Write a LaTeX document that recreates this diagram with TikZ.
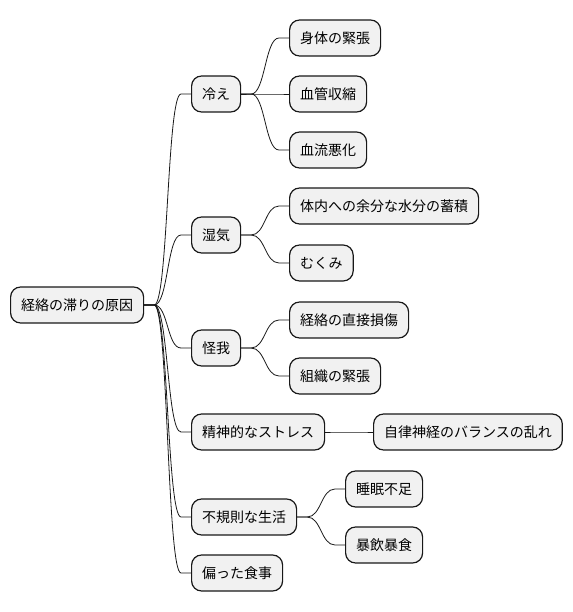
\documentclass[tikz,border=0pt]{standalone}
\usepackage{fontspec}
\newfontfamily\jp{Noto Sans CJK JP}
\definecolor{boxfill}{HTML}{F1F1F1}
\definecolor{ink}{HTML}{181818}
\tikzset{
  mmbox/.style={draw=ink, fill=boxfill, line width=1.2pt, rounded corners=10pt,
    inner xsep=10.5pt, inner ysep=0pt, minimum height=36pt, anchor=west,
    font=\jp\fontsize{14}{16}\selectfont, text=black},
  mmlink/.style={draw=ink, line width=0.8pt,
    to path={-- ++(10pt,0) .. controls +(14pt,0) and +(-14pt,0) .. ([xshift=-10pt]\tikztotarget) -- (\tikztotarget)}}
}
\begin{document}
\begin{tikzpicture}[x=1pt,y=-1pt]
\useasboundingbox (0,0) rectangle (572,612);
\node[mmbox] (root) at (10,305) {経絡の滞りの原因};
\node[mmbox] (hie) at (191,94) {冷え};
\node[mmbox] (hie1) at (289,38) {身体の緊張};
\node[mmbox] (hie2) at (289,94) {血管収縮};
\node[mmbox] (hie3) at (289,150) {血流悪化};
\node[mmbox] (shi) at (191,235) {湿気};
\node[mmbox] (shi1) at (289,206) {体内への余分な水分の蓄積};
\node[mmbox] (shi2) at (289,263) {むくみ};
\node[mmbox] (ke) at (191,348) {怪我};
\node[mmbox] (ke1) at (289,320) {経絡の直接損傷};
\node[mmbox] (ke2) at (289,376) {組織の緊張};
\node[mmbox] (sei) at (191,432) {精神的なストレス};
\node[mmbox] (sei1) at (373,432) {自律神経のバランスの乱れ};
\node[mmbox] (fu) at (191,517) {不規則な生活};
\node[mmbox] (fu1) at (345,489) {睡眠不足};
\node[mmbox] (fu2) at (345,545) {暴飲暴食};
\node[mmbox] (hen) at (191,573) {偏った食事};
\foreach \c in {hie,shi,ke,sei,fu,hen} \draw[mmlink] (root.east) to (\c.west);
\foreach \c in {hie1,hie2,hie3} \draw[mmlink] (hie.east) to (\c.west);
\foreach \c in {shi1,shi2} \draw[mmlink] (shi.east) to (\c.west);
\foreach \c in {ke1,ke2} \draw[mmlink] (ke.east) to (\c.west);
\draw[mmlink] (sei.east) to (sei1.west);
\foreach \c in {fu1,fu2} \draw[mmlink] (fu.east) to (\c.west);
\end{tikzpicture}
\end{document}
